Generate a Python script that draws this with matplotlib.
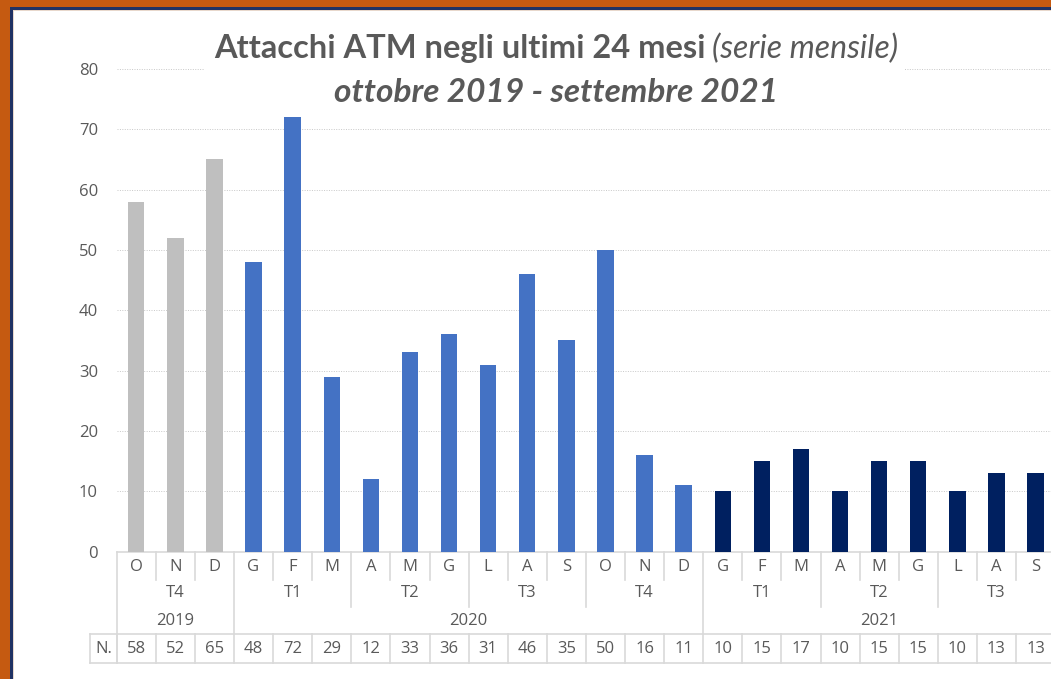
import matplotlib.pyplot as plt
import matplotlib.transforms as mtransforms
from matplotlib.patches import Rectangle

# dati: attacchi ATM mensili, ottobre 2019 - settembre 2021
mesi = ["O", "N", "D",
        "G", "F", "M", "A", "M", "G", "L", "A", "S", "O", "N", "D",
        "G", "F", "M", "A", "M", "G", "L", "A", "S"]
attacchi = [58, 52, 65,
            48, 72, 29, 12, 33, 36, 31, 46, 35, 50, 16, 11,
            10, 15, 17, 10, 15, 15, 10, 13, 13]
trimestri = ["T4", "T1", "T2", "T3", "T4", "T1", "T2", "T3"]
trim_inizio = [0, 3, 6, 9, 12, 15, 18, 21]
anni = ["2019", "2020", "2021"]
anni_inizio = [0, 3, 15]
colori_anno = ["#BFBFBF", "#4472C4", "#002060"]

W, H = 1051, 679
fig = plt.figure(figsize=(W / 100, H / 100), dpi=100)
fig.patch.set_facecolor("white")

# cornice arancione / blu
fig.patches.append(Rectangle((0, 0), 1, 1, transform=fig.transFigure,
                             facecolor="#C55A11", edgecolor="none", zorder=-10))
fig.patches.append(Rectangle((10 / W, 0), 1, 1 - 7 / H, transform=fig.transFigure,
                             facecolor="#1F3264", edgecolor="none", zorder=-9))
fig.patches.append(Rectangle((12.5 / W, 0), 1, 1 - 9.5 / H, transform=fig.transFigure,
                             facecolor="#E8D8CC", edgecolor="none", zorder=-8))
fig.patches.append(Rectangle((14 / W, 0), 1, 1 - 11 / H, transform=fig.transFigure,
                             facecolor="white", edgecolor="none", zorder=-7))

# area del grafico (pixel)
x0_px, cat_px = 116.7, 39.1
y0_px, y80_px = 551.5, 69
ax = fig.add_axes([x0_px / W, (H - y0_px) / H, 24 * cat_px / W, (y0_px - y80_px) / H])
ax.set_facecolor("none")

grigio_testo = "#595959"
grigio_linea = "#D9D9D9"
font_ax = "Open Sans"
fs = 12

colori = []
for i in range(len(attacchi)):
    k = sum(1 for s in anni_inizio if i >= s) - 1
    colori.append(colori_anno[k])

x = list(range(len(attacchi)))
ax.bar(x, attacchi, width=0.42, color=colori, zorder=3)

ax.set_xlim(-0.5, 23.5)
ax.set_ylim(0, 80)
ax.set_yticks(range(0, 81, 10))
ax.set_xticks([])
ax.tick_params(axis="y", length=0, pad=13.5, labelsize=fs, labelcolor=grigio_testo)
for t in ax.get_yticklabels():
    t.set_fontfamily(font_ax)
ax.yaxis.grid(True, color="#C8C8C8", linestyle=(0, (1, 1.5)), linewidth=0.7, zorder=0)
for s in ["top", "right", "left"]:
    ax.spines[s].set_visible(False)
ax.spines["bottom"].set_color(grigio_linea)
ax.spines["bottom"].set_linewidth(1.2)

# tabella delle categorie sotto l'asse
tr = mtransforms.blended_transform_factory(ax.transData, ax.transAxes)


def ya(ypx):
    return (y0_px - ypx) / (y0_px - y80_px)


def vline(xd, ytop, ybot):
    ax.plot([xd, xd], [ya(ytop), ya(ybot)], transform=tr, color=grigio_linea,
            lw=1.2, clip_on=False, zorder=1)


def hline(xa, xb, ypx):
    ax.plot([xa, xb], [ya(ypx), ya(ypx)], transform=tr, color=grigio_linea,
            lw=1.2, clip_on=False, zorder=1)


def testo(xd, ypx, s):
    ax.text(xd, ya(ypx), s, transform=tr, ha="center", va="center", fontsize=fs,
            color=grigio_testo, family=font_ax, clip_on=False)


y_mese, y_trim, y_anno, y_tab_top, y_tab_bot = 580, 607, 634, 634, 663
for k in range(25):
    xd = k - 0.5
    if k in anni_inizio:
        vline(xd, y0_px, y_tab_bot if k == 0 else y_anno)
    elif k in trim_inizio:
        vline(xd, y0_px, y_trim)
    else:
        vline(xd, y0_px, y_mese)
    vline(xd, y_tab_top, y_tab_bot)

x_n = -0.5 - (x0_px - 90) / cat_px
hline(x_n, 23.6, y_tab_top)
hline(x_n, 23.6, y_tab_bot)
vline(x_n, y_tab_top, y_tab_bot)
testo((x_n - 0.5) / 2, 649, "N.")

for i, m in enumerate(mesi):
    testo(i, 567, m)
    testo(i, 649, str(attacchi[i]))

fine_trim = trim_inizio[1:] + [24]
for t, a, b in zip(trimestri, trim_inizio, fine_trim):
    testo((a + b - 1) / 2, 593, t)

fine_anni = anni_inizio[1:] + [24]
for t, a, b in zip(anni, anni_inizio, fine_anni):
    testo((a + b - 1) / 2, 621, t)

# titolo
fig.patches.append(Rectangle((205 / W, 1 - 115 / H), 700 / W, 85 / H,
                             transform=fig.transFigure, facecolor="white",
                             edgecolor="none", zorder=2))
font_t = "Lato"
fig.text(706 / W, 1 - 58 / H, "Attacchi ATM negli ultimi 24 mesi", ha="right",
         va="baseline", fontsize=23.5, fontweight="bold", color=grigio_testo,
         family=font_t)
fig.text(712 / W, 1 - 58 / H, "(serie mensile)", ha="left", va="baseline",
         fontsize=23, fontstyle="italic", color=grigio_testo, family=font_t)
fig.text(556 / W, 1 - 102 / H, "ottobre 2019 - settembre 2021", ha="center",
         va="baseline", fontsize=24, fontweight="bold", fontstyle="italic",
         color=grigio_testo, family=font_t)

fig.savefig("out.png", dpi=100)
